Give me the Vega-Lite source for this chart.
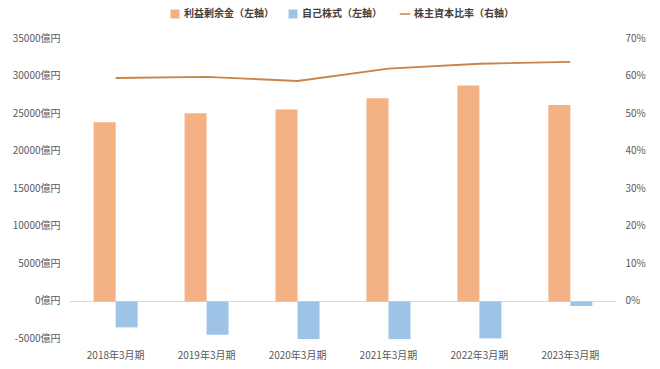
{
  "$schema": "https://vega.github.io/schema/vega-lite/v6.json",
  "width": 546,
  "height": 300,
  "autosize": {"type": "none"},
  "padding": {"left": 70, "top": 39, "right": 44, "bottom": 30},
  "background": "white",
  "config": {
    "view": {"stroke": null},
    "font": "Noto Sans CJK JP",
    "axis": {"labelFont": "Noto Sans CJK JP", "labelFontSize": 10, "labelColor": "#595959", "domain": false, "ticks": false, "tickSize": 0, "grid": false, "title": null, "labelOverlap": false}
  },
  "data": {
    "values": [
      {"year": "2018年3月期", "series": "利益剰余金（左軸）", "value": 23900},
      {"year": "2019年3月期", "series": "利益剰余金（左軸）", "value": 25100},
      {"year": "2020年3月期", "series": "利益剰余金（左軸）", "value": 25600},
      {"year": "2021年3月期", "series": "利益剰余金（左軸）", "value": 27100},
      {"year": "2022年3月期", "series": "利益剰余金（左軸）", "value": 28800},
      {"year": "2023年3月期", "series": "利益剰余金（左軸）", "value": 26200},
      {"year": "2018年3月期", "series": "自己株式（左軸）", "value": -3450},
      {"year": "2019年3月期", "series": "自己株式（左軸）", "value": -4430},
      {"year": "2020年3月期", "series": "自己株式（左軸）", "value": -5010},
      {"year": "2021年3月期", "series": "自己株式（左軸）", "value": -5010},
      {"year": "2022年3月期", "series": "自己株式（左軸）", "value": -4920},
      {"year": "2023年3月期", "series": "自己株式（左軸）", "value": -600},
      {"year": "2018年3月期", "series": "株主資本比率（右軸）", "value": 59.6},
      {"year": "2019年3月期", "series": "株主資本比率（右軸）", "value": 59.9},
      {"year": "2020年3月期", "series": "株主資本比率（右軸）", "value": 58.8},
      {"year": "2021年3月期", "series": "株主資本比率（右軸）", "value": 62.1},
      {"year": "2022年3月期", "series": "株主資本比率（右軸）", "value": 63.4},
      {"year": "2023年3月期", "series": "株主資本比率（右軸）", "value": 63.9}
    ]
  },
  "encoding": {
    "x": {
      "field": "year", "type": "nominal", "sort": null,
      "scale": {"paddingInner": 0.516, "paddingOuter": 0.26},
      "axis": {"labelAngle": 0, "labelPadding": 11}
    }
  },
  "layer": [
    {
      "layer": [
        {
          "mark": {"type": "rule", "color": "#d9d9d9", "strokeWidth": 1},
          "encoding": {
            "y": {
              "datum": 0, "type": "quantitative",
              "axis": {"values": [-5000, 0, 5000, 10000, 15000, 20000, 25000, 30000, 35000], "labelExpr": "datum.value + '億円'", "labelPadding": 10, "labelOffset": -1, "labelOverlap": false, "labelBound": false}
            },
            "x": null
          }
        },
        {
          "transform": [{"filter": "datum.series !== '株主資本比率（右軸）'"}],
          "mark": {"type": "bar"},
          "encoding": {
            "xOffset": {"field": "series", "type": "nominal", "sort": ["利益剰余金（左軸）", "自己株式（左軸）"], "scale": {"paddingInner": 0, "paddingOuter": 0}},
            "y": {
              "field": "value", "type": "quantitative",
              "scale": {"domain": [-5000, 35000], "nice": false, "zero": false},
              "axis": {"values": [-5000, 0, 5000, 10000, 15000, 20000, 25000, 30000, 35000], "labelExpr": "datum.value + '億円'", "labelPadding": 10, "labelOffset": -1, "labelOverlap": false, "labelBound": false}
            },
            "color": {
              "field": "series", "type": "nominal",
              "scale": {"domain": ["利益剰余金（左軸）", "自己株式（左軸）", "株主資本比率（右軸）"], "range": ["#F4B183", "#9DC3E6", "#C8844A"]},
              "legend": {
                "title": null, "orient": "none", "direction": "horizontal",
                "legendX": 100, "legendY": -30,
                "labelFont": "Noto Sans CJK JP", "labelFontSize": 10, "labelFontWeight": "bold", "labelColor": "#404040",
                "symbolSize": 80, "columnPadding": 14, "labelOffset": 4,
                "encode": {
                  "symbols": {
                    "update": {
                      "shape": {"signal": "datum.value === '株主資本比率（右軸）' ? 'stroke' : 'square'"},
                      "fill": {"scale": "color", "field": "value"},
                      "stroke": {"scale": "color", "field": "value"},
                      "strokeWidth": {"signal": "datum.value === '株主資本比率（右軸）' ? 1.5 : 0"},
                      "size": {"signal": "datum.value === '株主資本比率（右軸）' ? 110 : 80"}
                    }
                  }
                }
              }
            }
          }
        }
      ]
    },
    {
      "transform": [{"filter": "datum.series === '株主資本比率（右軸）'"}],
      "mark": {"type": "line", "strokeWidth": 1.8},
      "encoding": {
        "y": {
          "field": "value", "type": "quantitative",
          "scale": {"domain": [-10, 70], "nice": false, "zero": false},
          "axis": {"orient": "right", "values": [0, 10, 20, 30, 40, 50, 60, 70], "labelExpr": "datum.value + '%'", "labelPadding": 9, "labelOffset": -1, "labelOverlap": false}
        },
        "color": {"field": "series", "type": "nominal"}
      }
    }
  ],
  "resolve": {"scale": {"y": "independent"}}
}
